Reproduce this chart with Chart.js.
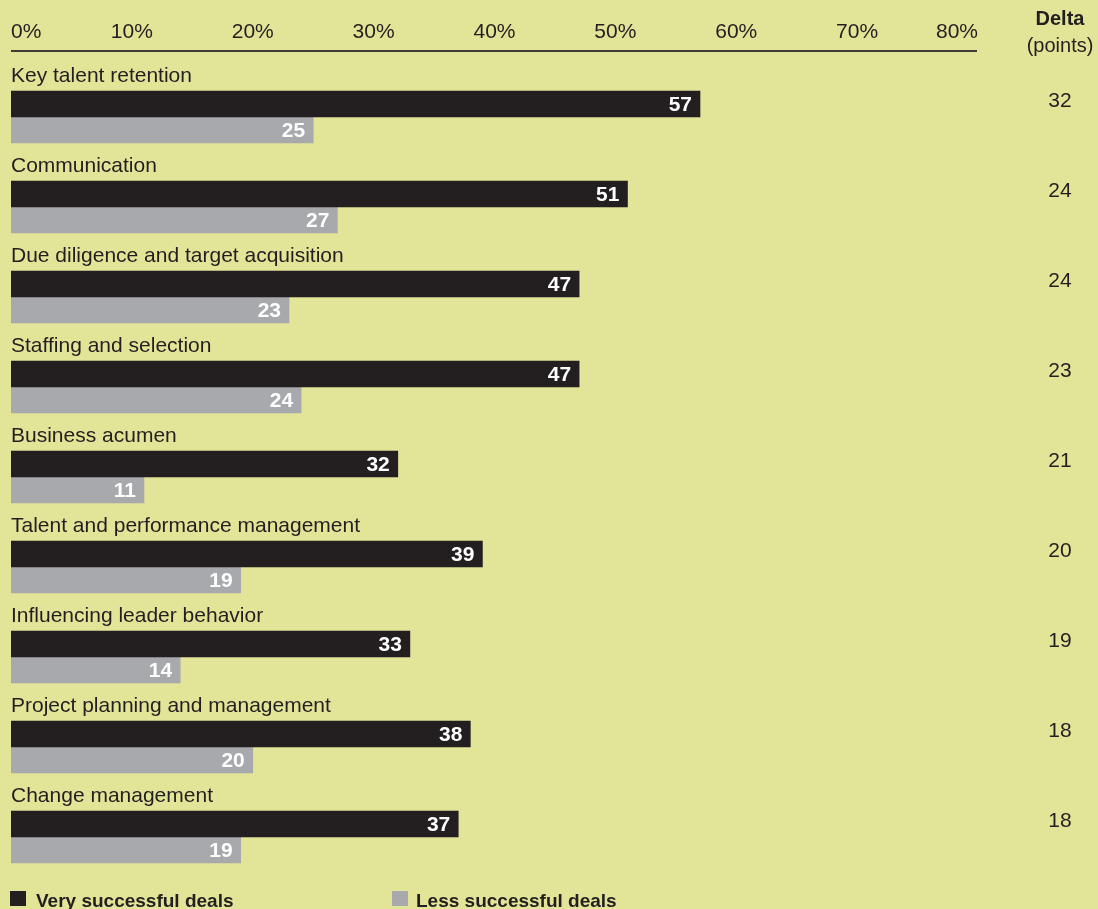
<!DOCTYPE html>
<html>
<head>
<meta charset="utf-8">
<script src="https://cdn.jsdelivr.net/npm/chart.js@4.4.1/dist/chart.umd.min.js"></script>
<style>
  html, body { margin: 0; padding: 0; background: #e2e498; }
  #wrap { width: 1098px; height: 909px; }
</style>
</head>
<body>
<div id="wrap"><canvas id="bars" width="1098" height="909"></canvas></div>
<script>
const categories = [
  'Key talent retention',
  'Communication',
  'Due diligence and target acquisition',
  'Staffing and selection',
  'Business acumen',
  'Talent and performance management',
  'Influencing leader behavior',
  'Project planning and management',
  'Change management'
];
const verySuccessful = [57, 51, 47, 47, 32, 39, 33, 38, 37];
const lessSuccessful = [25, 27, 23, 24, 11, 19, 14, 20, 19];
const deltaPoints = [32, 24, 24, 23, 21, 20, 19, 18, 18];
const xTicks = [0, 10, 20, 30, 40, 50, 60, 70, 80];
const seriesNames = ['Very successful deals', 'Less successful deals'];

const INK = '#231f20';
const GREY = '#a7a9ac';
const SANS = '"Liberation Sans", Arial, sans-serif';

// axis, category captions, in-bar values, delta column and legend
const decorations = {
  id: 'decorations',
  afterDraw(chart) {
    const ctx = chart.ctx;
    const x = chart.scales.x;
    const y = chart.scales.y;
    const left = x.getPixelForValue(0);
    const right = x.getPixelForValue(80);
    ctx.save();

    // top axis
    ctx.fillStyle = INK;
    ctx.font = '21px ' + SANS;
    ctx.textBaseline = 'middle';
    xTicks.forEach((v, i) => {
      ctx.textAlign = i === 0 ? 'left' : (i === xTicks.length - 1 ? 'right' : 'center');
      ctx.fillText(v + '%', x.getPixelForValue(v), 32);
    });
    ctx.strokeStyle = '#3e3c37';
    ctx.lineWidth = 2;
    ctx.beginPath();
    ctx.moveTo(left, 51);
    ctx.lineTo(right - 1, 51);
    ctx.stroke();

    // delta header
    ctx.textAlign = 'center';
    ctx.font = 'bold 20px ' + SANS;
    ctx.fillText('Delta', 1060, 19);
    ctx.font = '20px ' + SANS;
    ctx.fillText('(points)', 1060, 46);

    // category captions and deltas
    categories.forEach((name, i) => {
      const cy = y.getPixelForValue(i);
      ctx.fillStyle = INK;
      ctx.textAlign = 'left';
      ctx.textBaseline = 'alphabetic';
      ctx.font = '21px ' + SANS;
      ctx.fillText(name, left, cy - 35);
      ctx.textAlign = 'center';
      ctx.textBaseline = 'middle';
      ctx.fillText(String(deltaPoints[i]), 1060, cy - 16);
    });

    // values at the end of each bar
    ctx.fillStyle = '#ffffff';
    ctx.font = 'bold 21px ' + SANS;
    ctx.textAlign = 'right';
    ctx.textBaseline = 'middle';
    chart.data.datasets.forEach((ds, di) => {
      chart.getDatasetMeta(di).data.forEach((bar, i) => {
        ctx.fillText(String(ds.data[i]), bar.x - 8, bar.y + 1);
      });
    });

    // legend
    ctx.font = 'bold 19px ' + SANS;
    ctx.textAlign = 'left';
    ctx.textBaseline = 'alphabetic';
    [[INK, 10, 36], [GREY, 392, 416]].forEach(([c, bx, tx], i) => {
      ctx.fillStyle = c;
      ctx.fillRect(bx, 891, 16, 15);
      ctx.fillStyle = INK;
      ctx.fillText(seriesNames[i], tx, 907);
    });

    ctx.restore();
  }
};

new Chart(document.getElementById('bars'), {
  type: 'bar',
  data: {
    labels: categories,
    datasets: [
      { label: seriesNames[0], data: verySuccessful, backgroundColor: INK },
      { label: seriesNames[1], data: lessSuccessful, backgroundColor: GREY }
    ]
  },
  options: {
    indexAxis: 'y',
    responsive: false,
    animation: false,
    devicePixelRatio: 1,
    barThickness: 26,
    layout: { padding: { left: 11, right: 120, top: 72, bottom: 27 } },
    scales: {
      x: { display: false, min: 0, max: 80 },
      y: { display: false, offset: true }
    },
    plugins: {
      legend: { display: false },
      tooltip: { enabled: false }
    }
  },
  plugins: [decorations]
});
</script>
</body>
</html>
